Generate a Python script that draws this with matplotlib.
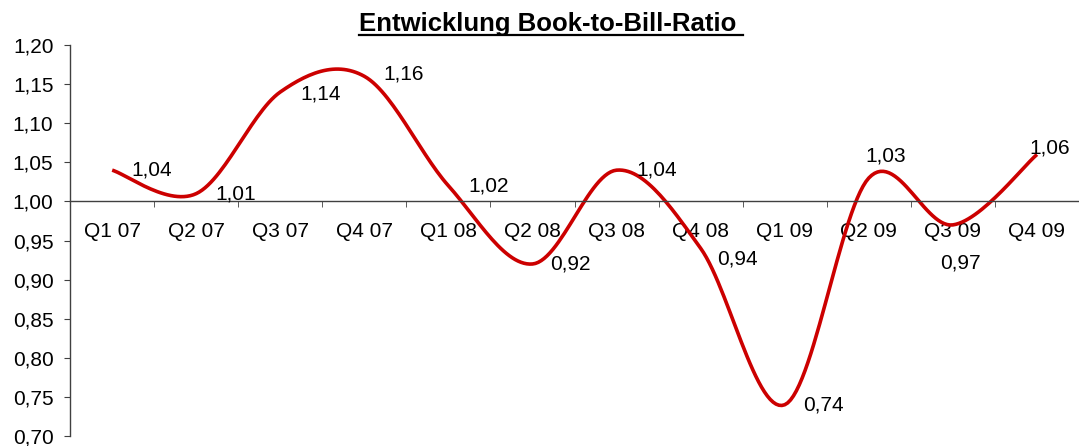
import numpy as np
import matplotlib
matplotlib.use("Agg")
from matplotlib import pyplot as plt
from matplotlib.ticker import FixedLocator, FuncFormatter
from matplotlib.lines import Line2D

plt.rcParams['font.family'] = ['Liberation Sans', 'DejaVu Sans']

quarters = ['Q1 07', 'Q2 07', 'Q3 07', 'Q4 07', 'Q1 08', 'Q2 08',
            'Q3 08', 'Q4 08', 'Q1 09', 'Q2 09', 'Q3 09', 'Q4 09']
ratio = [1.04, 1.01, 1.14, 1.16, 1.02, 0.92, 1.04, 0.94, 0.74, 1.03, 0.97, 1.06]
title = 'Entwicklung Book-to-Bill-Ratio'
red = '#CC0000'

# label offsets in pixels (left edge dx, centre dy downward)
lab_off = [(19, 0), (19, 0), (20, 2), (19, -2), (20, 0), (18, 0),
           (20, 0), (16, 11), (18, 0), (-3, -22), (-13, 38), (-8, -7)]


def smooth(x, y, n=30):
    # bezier segments with catmull-rom style handles (like a "smoothed line")
    x = np.asarray(x, float)
    y = np.asarray(y, float)
    px = np.concatenate([[x[0]], x, [x[-1]]])
    py = np.concatenate([[y[0]], y, [y[-1]]])
    xs, ys = [], []
    t = np.linspace(0, 1, n)
    for i in range(1, len(px) - 2):
        p0 = np.array([px[i], py[i]])
        p3 = np.array([px[i + 1], py[i + 1]])
        p1 = p0 + (np.array([px[i + 1], py[i + 1]]) - np.array([px[i - 1], py[i - 1]])) / 6
        p2 = p3 - (np.array([px[i + 2], py[i + 2]]) - np.array([px[i], py[i]])) / 6
        b = ((1 - t) ** 3)[:, None] * p0 + (3 * (1 - t) ** 2 * t)[:, None] * p1 \
            + (3 * (1 - t) * t ** 2)[:, None] * p2 + (t ** 3)[:, None] * p3
        xs.extend(b[:, 0])
        ys.extend(b[:, 1])
    return np.array(xs), np.array(ys)


comma = lambda v: f'{v:.2f}'.replace('.', ',')

fig = plt.figure(figsize=(10.79, 4.46), dpi=100)
ax = fig.add_axes([0.065, 0.0224, 0.935, 0.8766])

xpos = np.arange(len(quarters))
sx, sy = smooth(xpos, ratio)
ax.plot(sx, sy, color=red, lw=2.6, solid_capstyle='butt', clip_on=False)

px2pt = 72 / 100
for x, v, (dx, dy) in zip(xpos, ratio, lab_off):
    ax.annotate(comma(v), (x, v), xytext=(dx * px2pt, -dy * px2pt),
                textcoords='offset points', ha='left', va='center', fontsize=15)

ax.set_xlim(-0.5, len(quarters) - 0.5)
ax.set_ylim(0.70, 1.20)
ax.set_yticks(np.arange(0.70, 1.201, 0.05))
ax.yaxis.set_major_formatter(FuncFormatter(lambda v, p: comma(v)))

ax.spines['top'].set_visible(False)
ax.spines['right'].set_visible(False)
ax.spines['bottom'].set_position(('data', 1.0))
for s in ('left', 'bottom'):
    ax.spines[s].set_color('#404040')
    ax.spines[s].set_linewidth(1.0)

ax.set_xticks(xpos)
ax.set_xticklabels(quarters)
ax.xaxis.set_minor_locator(FixedLocator(np.arange(0.5, len(quarters) - 0.5, 1)))
ax.tick_params(axis='x', which='major', length=0, pad=15, labelsize=15)
ax.tick_params(axis='x', which='minor', length=4, direction='out', color='#404040')
ax.tick_params(axis='y', length=4, direction='out', color='#404040', pad=8, labelsize=15)

# underlined, bold heading
t = fig.text(548 / 1079, 1 - 31 / 446, title, ha='center', va='baseline',
             fontsize=18.5, fontweight='bold')
fig.canvas.draw()
bb = t.get_window_extent().transformed(fig.transFigure.inverted())
fig.add_artist(Line2D([bb.x0, bb.x1 + 0.006], [1 - 34.5 / 446] * 2,
                      transform=fig.transFigure, color='black', lw=1.6))

fig.savefig('out.png', dpi=100)
